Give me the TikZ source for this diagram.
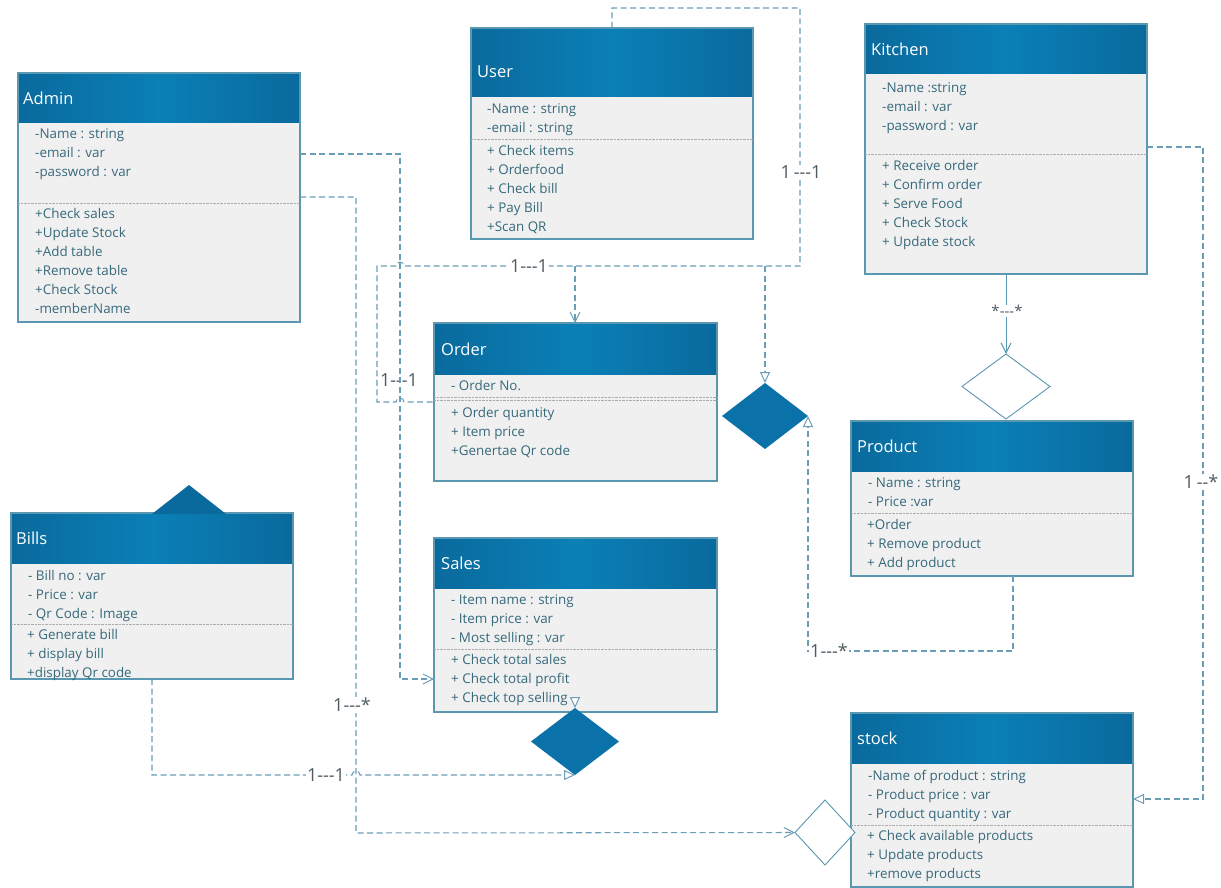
\documentclass[tikz,border=0pt]{standalone}
\usepackage{fontspec}
\setmainfont{Open Sans}
\usetikzlibrary{arrows.meta,shapes.geometric}
\definecolor{hdrA}{HTML}{0A6A9D}
\definecolor{hdrB}{HTML}{0A80B7}
\definecolor{bodyfill}{HTML}{F0F0F1}
\definecolor{edgec}{HTML}{5A97B0}
\definecolor{txtc}{HTML}{36697A}
\definecolor{connc}{HTML}{6A9DB6}
\definecolor{lblc}{HTML}{4F5A61}
\definecolor{diac}{HTML}{0A72A8}
\newcommand\umlclass[6]{%
  \node[classbody, minimum width=#4pt, minimum height=#5pt] (#1) at (#2,#3) {};
  \node[classhead, minimum width=#4pt, minimum height=#6pt] (#1H) at (#2,#3) {};
  \draw[boxedge] (#1.north west) rectangle (#1.south east);
}
\newcommand\dsh{\mbox{-}}
\tikzset{
  x=1pt, y=-1pt,
  classbody/.style={fill=bodyfill, anchor=north west, inner sep=0, outer sep=0},
  classhead/.style={anchor=north west, inner sep=0, outer sep=0, left color=hdrA, right color=hdrA, middle color=hdrB},
  boxedge/.style={draw=edgec, line width=1.2pt},
  title/.style={anchor=west, text=white, font=\fontsize{16.5}{18}\selectfont, inner sep=0},
  members/.style={anchor=north west, align=left, text=txtc, font=\fontsize{13.4}{19}\selectfont, inner sep=0},
  sepline/.style={draw=gray!65, line width=0.7pt, dash pattern=on 0.8pt off 0.6pt},
  conn/.style={draw=connc, line width=1.05pt, dash pattern=on 6pt off 3.5pt},
  lab/.style={fill=white, text=lblc, inner sep=1pt, font=\fontsize{18}{20}\selectfont},
  openv/.style={-{Straight Barb[length=10pt,width=10pt,line width=1pt]}},
  opentri/.style={-{Triangle[open,length=11pt,width=10pt,fill=white,line width=1pt]}},
  filldia/.style={diamond, fill=diac, draw=none, inner sep=0, outer sep=0},
  opendia/.style={diamond, fill=white, draw=edgec, line width=0.9pt, inner sep=0, outer sep=0},
}
\begin{document}
\begin{tikzpicture}
\useasboundingbox[fill=white] (0,0) rectangle (1221,888);

% ---------- Admin
\umlclass{admin}{18}{73}{282}{249}{50}
\node[title] (adminT) at (23,98) {Admin};
\node[members] (adminA) at (35,128) {-Name : string\\-email : var\\-password : var};
\draw[sepline] (admin.west |- 0,203) -- (admin.east |- 0,203);
\node[members] (adminM) at (35,208) {+Check sales\\+Update Stock\\+Add table\\+Remove table\\+Check Stock\\-memberName};

% ---------- User
\umlclass{user}{471}{28}{282}{211}{69}
\node[title] (userT) at (477,72) {User};
\node[members] (userA) at (487,103) {-Name : string\\-email : string};
\draw[sepline] (user.west |- 0,139) -- (user.east |- 0,139);
\node[members] (userM) at (487,145) {+ Check items\\+ Orderfood\\+ Check bill\\+ Pay Bill\\+Scan QR};

% ---------- Kitchen
\umlclass{kitchen}{865}{24}{282}{250}{50}
\node[title] (kitchenT) at (871,49) {Kitchen};
\node[members] (kitchenA) at (882,82) {-Name :string\\-email : var\\-password : var};
\draw[sepline] (kitchen.west |- 0,154) -- (kitchen.east |- 0,154);
\node[members] (kitchenM) at (882,160) {+ Receive order\\+ Confirm order\\+ Serve Food\\+ Check Stock\\+ Update stock};

% ---------- Order
\umlclass{order}{434}{323}{283}{158}{51}
\node[title] (orderT) at (441,349) {Order};
\node[members] (orderA) at (451,380) {- Order No.};
\draw[sepline] (order.west |- 0,397) -- (order.east |- 0,397);
\draw[sepline] (order.west |- 0,400.5) -- (order.east |- 0,400.5);
\node[members] (orderM) at (451,407) {+ Order quantity\\+ Item price\\+Genertae Qr code};

% ---------- Bills
\umlclass{bills}{11}{513}{282}{166}{50}
\fill[hdrA] (152,514) -- (189,485) -- (226,514) -- cycle;
\node[title] (billsT) at (16,538) {Bills};
\node[members] (billsA) at (28,570) {- Bill no : var\\- Price : var\\- Qr Code : Image};
\draw[sepline] (bills.west |- 0,624) -- (bills.east |- 0,624);
\node[members] (billsM) at (27,629) {+ Generate bill\\+ display bill\\+display Qr code};

% ---------- Sales
\umlclass{sales}{434}{538}{283}{174}{50}
\node[title] (salesT) at (441,563) {Sales};
\node[members] (salesA) at (451,594) {- Item name : string\\- Item price : var\\- Most selling : var};
\draw[sepline] (sales.west |- 0,649) -- (sales.east |- 0,649);
\node[members] (salesM) at (451,654) {+ Check total sales\\+ Check total profit\\+ Check top selling};

% ---------- Product
\umlclass{product}{851}{421}{282}{155}{50}
\node[title] (productT) at (857,446) {Product};
\node[members] (productA) at (868,477) {- Name : string\\- Price :var};
\draw[sepline] (product.west |- 0,513) -- (product.east |- 0,513);
\node[members] (productM) at (867,519) {+Order\\+ Remove product\\+ Add product};

% ---------- stock
\umlclass{stock}{851}{713}{282}{174}{50}
\node[title] (stockT) at (857,738) {stock};
\node[members] (stockA) at (868,770) {-Name of product : string\\- Product price : var\\- Product quantity : var};
\draw[sepline] (stock.west |- 0,825) -- (stock.east |- 0,825);
\node[members] (stockM) at (867,830) {+ Check available products\\+ Update products\\+remove products};

% ---------- diamonds
\node[filldia, minimum width=86pt, minimum height=66pt] (diaOrder) at (765,416) {};
\node[filldia, minimum width=88pt, minimum height=67pt] (diaSales) at (575,741.5) {};
\node[opendia, minimum width=88pt, minimum height=65pt] (diaKitchen) at (1006,386.5) {};
\node[opendia, minimum width=60pt, minimum height=65pt] (diaStock) at (825,832.5) {};

% ---------- coordinates
\coordinate (u1) at (612,8);
\coordinate (u2) at (800,8);
\coordinate (u3) at (800,266);
\coordinate (u4) at (377,266);
\coordinate (u5) at (377,402);

% ---------- connectors
% User loop to Order
\draw[conn] (user.north -| u1) -- (u1) -- (u2) -- (u3) -- (404,266) arc (0:-180:4) -- (u4) -- (u5) -- (396,402) arc (180:360:4) -- (order.west |- u5);
\draw[conn, openv] (575,266) -- (order.north -| 575,0);
\draw[conn, opentri] (diaOrder.north |- u3) -- (diaOrder.north);
\node[lab] (l1) at (801,172) {1\,\dsh\dsh\dsh1};
\node[lab] (l2) at (529,266) {1\dsh\dsh\dsh1};
\node[lab] (l3) at (399,380) {1\dsh\dsh\dsh1};

% Admin email to Sales
\draw[conn, openv] (admin.east |- 0,154) -- (400,154) -- (400,679) -- (sales.west |- 0,679);
% Admin password to stock diamond
\draw[conn, openv] (admin.east |- 0,197) -- (356,197) -- (356,833) -- (diaStock.west);
\node[lab] (l4) at (352,705) {1\dsh\dsh\dsh*};

% Bills to Sales diamond
\draw[conn, opentri] (bills.south -| 152,0) -- (152,775) -- (352,775) arc (180:360:4) -- (diaSales.south);
\node[lab] (l5) at (326,775) {1\dsh\dsh\dsh1};
% Sales to its diamond
\draw[draw=connc, line width=0.9pt, opentri] (575,697) -- (diaSales.north);

% Kitchen to its diamond
\draw[draw=edgec, line width=1pt, openv] (kitchen.south -| diaKitchen) -- (diaKitchen.north);
\node[lab, inner sep=0.5pt, font=\fontsize{15}{16}\selectfont] (l6) at (1007,311) {*\dsh\dsh\dsh*};

% Kitchen to stock
\draw[conn, opentri] (kitchen.east |- 0,147) -- (1203,147) -- (1203,799) -- (stock.east |- 0,799);
\node[lab] (l7) at (1201,482) {1\,\dsh\dsh*};

% Product to Order diamond
\draw[conn, opentri] (product.south -| 1013,0) -- (1013,651) -- (808,651) -- (diaOrder.east);
\node[lab] (l8) at (829,651) {1\dsh\dsh\dsh*};
\end{tikzpicture}
\end{document}
